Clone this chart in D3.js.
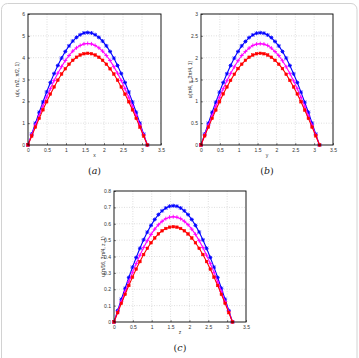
<!DOCTYPE html>
<html>
<head>
<meta charset="utf-8">
<script src="https://cdn.jsdelivr.net/npm/d3@7"></script>
<style>
  body { margin: 0; background: #fff; }
  svg { display: block; font-family: "Liberation Sans", Arial, sans-serif; }
</style>
</head>
<body>
<div id="chart"></div>
<script>
// x positions of the sampled points (0 .. pi)
const xs = [0, 0.098, 0.196, 0.295, 0.393, 0.491, 0.589, 0.687, 0.785, 0.884, 0.982, 1.080, 1.178, 1.276, 1.374, 1.473, 1.571,
  1.669, 1.767, 1.865, 1.963, 2.062, 2.160, 2.258, 2.356, 2.454, 2.553, 2.651, 2.749, 2.847, 2.945, 3.043, 3.142];

// panel (a)
const aBlue = [0, 0.50, 1.00, 1.50, 1.97, 2.43, 2.86, 3.27, 3.64, 3.98, 4.28, 4.54, 4.76, 4.93, 5.05, 5.13, 5.15,
  5.13, 5.05, 4.93, 4.76, 4.54, 4.28, 3.98, 3.64, 3.27, 2.86, 2.43, 1.97, 1.50, 1.00, 0.50, 0];
const aMagenta = [0, 0.46, 0.91, 1.35, 1.78, 2.19, 2.58, 2.95, 3.29, 3.59, 3.87, 4.10, 4.30, 4.45, 4.56, 4.63, 4.65,
  4.63, 4.56, 4.45, 4.30, 4.10, 3.87, 3.59, 3.29, 2.95, 2.58, 2.19, 1.78, 1.35, 0.91, 0.46, 0];
const aRed = [0, 0.41, 0.82, 1.22, 1.61, 1.98, 2.33, 2.66, 2.97, 3.25, 3.49, 3.70, 3.88, 4.02, 4.12, 4.18, 4.20,
  4.18, 4.12, 4.02, 3.88, 3.70, 3.49, 3.25, 2.97, 2.66, 2.33, 1.98, 1.61, 1.22, 0.82, 0.41, 0];

// panel (b)
const bBlue = [0, 0.25, 0.50, 0.75, 0.98, 1.21, 1.43, 1.63, 1.82, 1.99, 2.14, 2.27, 2.37, 2.46, 2.52, 2.56, 2.57,
  2.56, 2.52, 2.46, 2.37, 2.27, 2.14, 1.99, 1.82, 1.63, 1.43, 1.21, 0.98, 0.75, 0.50, 0.25, 0];
const bMagenta = [0, 0.23, 0.45, 0.67, 0.89, 1.09, 1.29, 1.47, 1.64, 1.79, 1.93, 2.05, 2.14, 2.22, 2.28, 2.31, 2.32,
  2.31, 2.28, 2.22, 2.14, 2.05, 1.93, 1.79, 1.64, 1.47, 1.29, 1.09, 0.89, 0.67, 0.45, 0.23, 0];
const bRed = [0, 0.21, 0.41, 0.61, 0.80, 0.99, 1.17, 1.33, 1.48, 1.62, 1.75, 1.85, 1.94, 2.01, 2.06, 2.09, 2.10,
  2.09, 2.06, 2.01, 1.94, 1.85, 1.75, 1.62, 1.48, 1.33, 1.17, 0.99, 0.80, 0.61, 0.41, 0.21, 0];

// panel (c)
const cBlue = [0, 0.070, 0.139, 0.206, 0.272, 0.335, 0.394, 0.450, 0.502, 0.549, 0.590, 0.626, 0.656, 0.679, 0.696, 0.707, 0.710,
  0.707, 0.696, 0.679, 0.656, 0.626, 0.590, 0.549, 0.502, 0.450, 0.394, 0.335, 0.272, 0.206, 0.139, 0.070, 0];
const cMagenta = [0, 0.063, 0.125, 0.187, 0.246, 0.303, 0.357, 0.408, 0.455, 0.497, 0.535, 0.567, 0.594, 0.615, 0.631, 0.640, 0.643,
  0.640, 0.631, 0.615, 0.594, 0.567, 0.535, 0.497, 0.455, 0.408, 0.357, 0.303, 0.246, 0.187, 0.125, 0.063, 0];
const cRed = [0, 0.057, 0.114, 0.169, 0.223, 0.274, 0.323, 0.369, 0.412, 0.450, 0.484, 0.513, 0.538, 0.557, 0.571, 0.579, 0.582,
  0.579, 0.571, 0.557, 0.538, 0.513, 0.484, 0.450, 0.412, 0.369, 0.323, 0.274, 0.223, 0.169, 0.114, 0.057, 0];

// tick labels
const xTicks = [0, 0.5, 1, 1.5, 2, 2.5, 3, 3.5];
const aTicks = [0, 1, 2, 3, 4, 5, 6];
const bTicks = [0, 0.5, 1, 1.5, 2, 2.5, 3];
const cTicks = [0, 0.1, 0.2, 0.3, 0.4, 0.5, 0.6, 0.7, 0.8];

const W = 359, H = 358;
const svg = d3.select("#chart").append("svg").attr("width", W).attr("height", H);
svg.append("rect").attr("width", W).attr("height", H).attr("fill", "#fff");

// light frame around the figure
svg.append("rect")
  .attr("x", 1.5).attr("y", 3.5).attr("width", 355.5).attr("height", 420)
  .attr("rx", 6).attr("fill", "none").attr("stroke", "#d2d2d2").attr("stroke-width", 1);

const panels = [
  { left: 28, right: 161, top: 14, bottom: 145, yMax: 6, yTicks: aTicks, xLabel: "x",
    yLabel: "u(x, π/2, π/2, 1)", tag: "a", series: [aBlue, aMagenta, aRed] },
  { left: 201, right: 333, top: 14, bottom: 145, yMax: 3, yTicks: bTicks, xLabel: "y",
    yLabel: "u(π/4, y, 3π/4, 1)", tag: "b", series: [bBlue, bMagenta, bRed] },
  { left: 114, right: 246, top: 191, bottom: 322, yMax: 0.8, yTicks: cTicks, xLabel: "z",
    yLabel: "u(π/16, 3π/4, z, 1)", tag: "c", series: [cBlue, cMagenta, cRed] }
];

const colors = ["#0000ff", "#ff00ff", "#ff0000"];
const markers = ["star", "plus", "square"];

function drawMarker(g, type, cx, cy, color) {
  const r = 2;
  if (type === "square") {
    g.append("rect").attr("x", cx - 1.3).attr("y", cy - 1.3).attr("width", 2.6).attr("height", 2.6)
      .attr("fill", color).attr("stroke", color).attr("stroke-width", 0.5);
  } else {
    const p = d3.path();
    p.moveTo(cx - r, cy); p.lineTo(cx + r, cy);
    p.moveTo(cx, cy - r); p.lineTo(cx, cy + r);
    if (type === "star") {
      const d = r * 0.75;
      p.moveTo(cx - d, cy - d); p.lineTo(cx + d, cy + d);
      p.moveTo(cx - d, cy + d); p.lineTo(cx + d, cy - d);
    }
    g.append("path").attr("d", p.toString()).attr("stroke", color).attr("stroke-width", 0.9).attr("fill", "none");
  }
}

panels.forEach((P) => {
  const x = d3.scaleLinear().domain([0, 3.5]).range([P.left, P.right]);
  const y = d3.scaleLinear().domain([0, P.yMax]).range([P.bottom, P.top]);
  const g = svg.append("g");

  // grid
  g.selectAll(".gx").data(xTicks.slice(1, -1)).enter().append("line")
    .attr("x1", (d) => x(d)).attr("x2", (d) => x(d)).attr("y1", P.top).attr("y2", P.bottom)
    .attr("stroke", "#bdbdbd").attr("stroke-width", 0.5).attr("stroke-dasharray", "1,1.5");
  g.selectAll(".gy").data(P.yTicks.slice(1, -1)).enter().append("line")
    .attr("x1", P.left).attr("x2", P.right).attr("y1", (d) => y(d)).attr("y2", (d) => y(d))
    .attr("stroke", "#bdbdbd").attr("stroke-width", 0.5).attr("stroke-dasharray", "1,1.5");

  // axes
  const fmt = (d) => String(d);
  const ax = g.append("g").attr("transform", `translate(0,${P.bottom})`)
    .call(d3.axisBottom(x).tickValues(xTicks).tickFormat(fmt).tickSizeInner(-2).tickSizeOuter(0).tickPadding(3));
  const ay = g.append("g").attr("transform", `translate(${P.left},0)`)
    .call(d3.axisLeft(y).tickValues(P.yTicks).tickFormat(fmt).tickSizeInner(-2).tickSizeOuter(0).tickPadding(3));
  [ax, ay].forEach((a) => {
    a.select(".domain").remove();
    a.selectAll("text").attr("font-size", 5).attr("fill", "#333");
    a.selectAll("line").attr("stroke", "#333").attr("stroke-width", 0.6);
  });

  // curves
  P.series.forEach((vals, i) => {
    const pts = xs.map((xv, k) => [xv, vals[k]]);
    const line = d3.line().x((d) => x(d[0])).y((d) => y(d[1]));
    g.append("path").datum(pts).attr("d", line).attr("fill", "none")
      .attr("stroke", colors[i]).attr("stroke-width", 1.1);
    const mg = g.append("g");
    pts.forEach((d) => drawMarker(mg, markers[i], x(d[0]), y(d[1]), colors[i]));
  });

  // box
  g.append("rect").attr("x", P.left).attr("y", P.top)
    .attr("width", P.right - P.left).attr("height", P.bottom - P.top)
    .attr("fill", "none").attr("stroke", "#000").attr("stroke-width", 0.9);

  // labels
  g.append("text").attr("x", (P.left + P.right) / 2).attr("y", P.bottom + 12)
    .attr("text-anchor", "middle").attr("font-size", 5).attr("fill", "#333").text(P.xLabel);
  g.append("text")
    .attr("transform", `translate(${P.left - 9},${(P.top + P.bottom) / 2}) rotate(-90)`)
    .attr("text-anchor", "middle").attr("font-size", 5).attr("fill", "#333").text(P.yLabel);
  const t = g.append("text").attr("x", (P.left + P.right) / 2).attr("y", P.bottom + 29)
    .attr("text-anchor", "middle").attr("font-size", 9.5)
    .attr("font-family", "'DejaVu Serif', 'Liberation Serif', serif").attr("fill", "#222");
  t.append("tspan").text("(");
  t.append("tspan").attr("font-style", "italic").text(P.tag);
  t.append("tspan").text(")");
});
</script>
</body>
</html>
